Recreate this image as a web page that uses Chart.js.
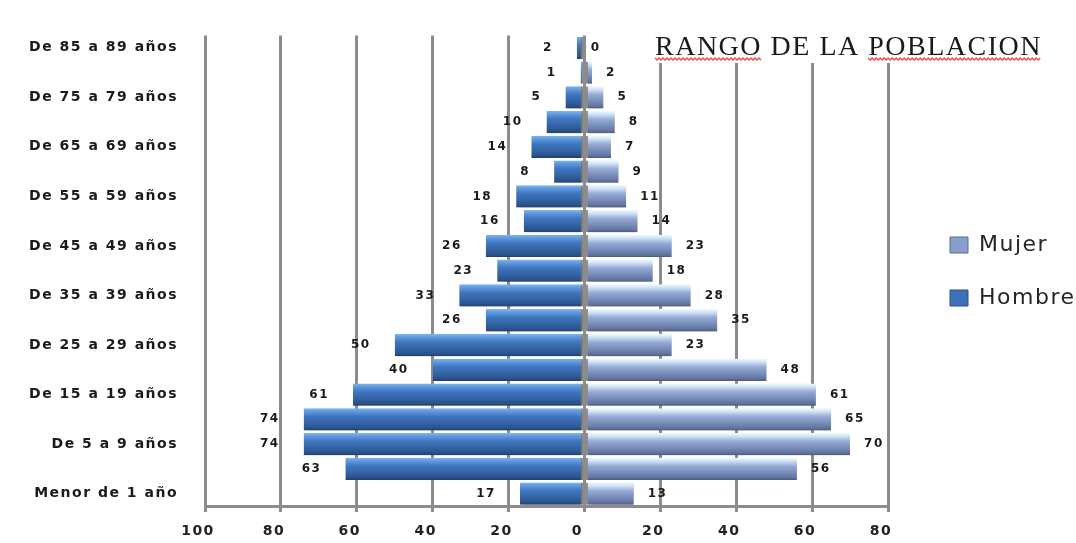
<!DOCTYPE html>
<html>
<head>
<meta charset="utf-8">
<title>Rango de la población</title>
<script src="https://cdn.jsdelivr.net/npm/chart.js@4.4.1/dist/chart.umd.min.js"></script>
<style>
  html, body { margin: 0; padding: 0; background: #fff; }
  #wrap { width: 1076px; height: 543px; }
</style>
</head>
<body>
<div id="wrap"><canvas id="piramide"></canvas></div>
<script>
// Grupos de edad, de abajo hacia arriba
let grupos = [
    'Menor de 1 año', 'De 1 a 4 años', 'De 5 a 9 años', 'De 10 a 14 años',
    'De 15 a 19 años', 'De 20 a 24 años', 'De 25 a 29 años', 'De 30 a 34 años',
    'De 35 a 39 años', 'De 40 a 44 años', 'De 45 a 49 años', 'De 50 a 54 años',
    'De 55 a 59 años', 'De 60 a 64 años', 'De 65 a 69 años', 'De 70 a 74 años',
    'De 75 a 79 años', 'De 80 a 84 años', 'De 85 a 89 años'
];

// Datos
let hombres = [17, 63, 74, 74, 61, 40, 50, 26, 33, 23, 26, 16, 18, 8, 14, 10, 5, 1, 2];
let mujeres = [13, 56, 70, 65, 61, 48, 23, 35, 28, 18, 23, 14, 11, 9, 7, 8, 5, 2, 0];

// Marcas del eje horizontal
let marcasX = [-100, -80, -60, -40, -20, 0, 20, 40, 60, 80];

// Colores lisos para la leyenda (Hombre, Mujer)
let coloresLeyenda = ['#3d70b8', '#8a9ecb'];
let bordesLeyenda = ['#2a4f85', '#5d6d90'];

Chart.defaults.font.family = '"DejaVu Sans", sans-serif';

function degradado(paradas, liso) {
    return function (c) {
        let y = c.chart.scales.y;
        if (!y || c.dataIndex === undefined) return liso;
        let centro = y.getPixelForValue(c.dataIndex);
        let alto = (y.bottom - y.top) / grupos.length * 0.9;
        if (!isFinite(centro) || !isFinite(alto) || alto <= 0) return liso;
        let g = c.chart.ctx.createLinearGradient(0, centro - alto / 2, 0, centro + alto / 2);
        paradas.forEach(p => g.addColorStop(p[0], p[1]));
        return g;
    };
}

let espaciado = {
    id: 'espaciado',
    beforeUpdate(chart) { chart.ctx.letterSpacing = '1.5px'; },
    beforeDraw(chart) { chart.ctx.letterSpacing = '1.5px'; }
};

// corre la leyenda hacia la derecha y un poco hacia arriba
let leyenda = {
    id: 'leyenda',
    afterLayout(chart) {
        let lg = chart.legend;
        let p = lg.options.labels.padding;
        lg.left += p;
        lg.right += p;
        lg.top -= 5;
        lg.bottom -= 5;
    }
};

let rotulos = {
    id: 'rotulos',
    beforeDatasetsDraw(chart) {
        let c = chart.ctx;
        c.save();
        c.shadowColor = 'rgba(0,0,0,0.28)';
        c.shadowBlur = 5;
        c.shadowOffsetX = 2;
        c.shadowOffsetY = 3;
    },
    afterDatasetsDraw(chart) {
        let c = chart.ctx;
        c.restore();
        c.save();
        c.font = 'bold 12px "DejaVu Sans"';
        c.fillStyle = '#1a1a1a';
        c.textBaseline = 'middle';
        chart.data.datasets.forEach((ds, i) => {
            chart.getDatasetMeta(i).data.forEach((bar, j) => {
                let v = ds.data[j];
                if (v < 0) {
                    c.textAlign = 'right';
                    c.fillText(String(-v), bar.x - 24, bar.y);
                } else {
                    c.textAlign = 'left';
                    c.fillText(String(v), bar.x + 14, bar.y);
                }
            });
        });
        c.restore();
    }
};

let titulo = {
    id: 'titulo',
    afterDraw(chart) {
        let c = chart.ctx;
        let txt = 'RANGO DE LA POBLACION';
        c.save();
        c.font = '28px "Liberation Serif"';
        let w = c.measureText(txt).width;
        let x0 = 655, base = 55;
        c.fillStyle = '#fff';
        c.fillRect(x0 - 6, 34, w + 12, 29);
        c.fillStyle = '#1a1a1a';
        c.textAlign = 'left';
        c.textBaseline = 'alphabetic';
        c.fillText(txt, x0, base);
        // subrayado ondulado del corrector
        c.strokeStyle = 'rgba(235,40,40,0.85)';
        c.lineWidth = 1.3;
        let tramos = [
            [x0, c.measureText('RANGO').width],
            [x0 + c.measureText('RANGO DE LA ').width, c.measureText('POBLACION').width]
        ];
        tramos.forEach(t => {
            c.beginPath();
            for (let x = t[0], k = 0; x <= t[0] + t[1]; x += 2, k++) {
                let yy = base + 3 + (k % 2 ? 2 : 0);
                if (k === 0) c.moveTo(x, yy); else c.lineTo(x, yy);
            }
            c.stroke();
        });
        c.restore();
    }
};

let ctx = document.getElementById('piramide').getContext('2d');
let piramide = new Chart(ctx, {
    type: 'bar',
    data: {
        labels: grupos,
        datasets: [
            {
                label: 'Hombre',
                data: hombres.map(v => -v),
                backgroundColor: degradado([
                    [0, '#80b8f2'], [0.14, '#5f9ade'], [0.38, '#3f75bf'],
                    [0.72, '#31609f'], [0.9, '#2a5288'], [1, '#1f3d66']
                ], coloresLeyenda[0]),
                borderColor: '#8c8c8c',
                borderWidth: { top: 0, bottom: 0, left: 0, right: 2 },
                borderSkipped: false,
                barPercentage: 0.9,
                categoryPercentage: 1
            },
            {
                label: 'Mujer',
                data: mujeres,
                backgroundColor: degradado([
                    [0, '#f0faff'], [0.15, '#cfe3f6'], [0.38, '#95abd4'],
                    [0.72, '#7287b4'], [0.9, '#62739c'], [1, '#4b587a']
                ], coloresLeyenda[1]),
                borderColor: '#8c8c8c',
                borderWidth: { top: 0, bottom: 0, left: 2, right: 0 },
                borderSkipped: false,
                barPercentage: 0.9,
                categoryPercentage: 1
            }
        ]
    },
    options: {
        indexAxis: 'y',
        responsive: true,
        maintainAspectRatio: false,
        animation: false,
        layout: { padding: { top: 10, left: 0, right: 28, bottom: 0 } },
        scales: {
            x: {
                stacked: true,
                min: -100,
                max: 80,
                afterBuildTicks: s => { s.ticks = marcasX.map(v => ({ value: v })); },
                afterFit: s => { s.height = 37; },
                grid: { color: '#8c8c8c', lineWidth: 3, tickLength: 6 },
                border: { display: true, color: '#8c8c8c', width: 3 },
                ticks: {
                    callback: v => Math.abs(v),
                    font: { size: 14, weight: 'bold' },
                    color: '#222',
                    padding: 11,
                    labelOffset: -7,
                    maxRotation: 0
                }
            },
            y: {
                stacked: true,
                reverse: true,
                afterFit: s => { s.width = 205; },
                grid: { display: false, drawTicks: false },
                border: { display: false },
                ticks: {
                    autoSkip: false,
                    callback: (v, i) => i % 2 === 0 ? grupos[i] : '',
                    font: { size: 14, weight: 'bold' },
                    color: '#1a1a1a',
                    padding: 27
                }
            }
        },
        plugins: {
            legend: {
                position: 'right',
                reverse: true,
                maxWidth: 160,
                labels: {
                    boxWidth: 18,
                    boxHeight: 16,
                    padding: 31,
                    color: '#262626',
                    font: { size: 22 },
                    generateLabels(chart) {
                        let items = Chart.defaults.plugins.legend.labels.generateLabels(chart);
                        items.forEach(it => {
                            it.fillStyle = coloresLeyenda[it.datasetIndex];
                            it.strokeStyle = bordesLeyenda[it.datasetIndex];
                            it.lineWidth = 1;
                        });
                        return items;
                    }
                }
            },
            tooltip: { enabled: false }
        }
    },
    plugins: [espaciado, leyenda, rotulos, titulo]
});
</script>
</body>
</html>
